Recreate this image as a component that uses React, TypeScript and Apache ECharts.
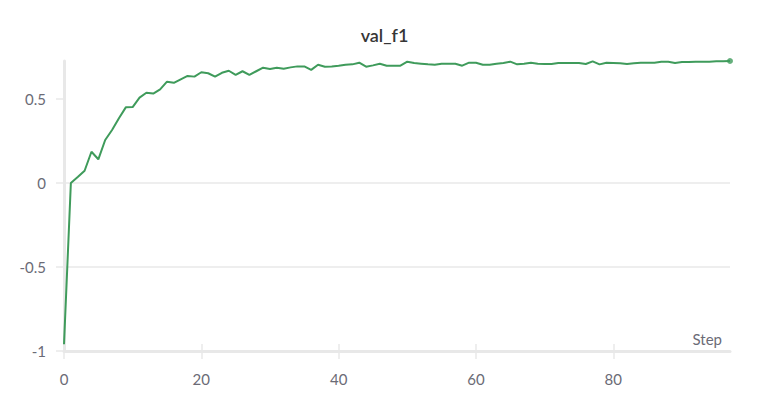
import React, { useEffect, useRef } from "react";
import * as echarts from "echarts";

const title = "val_f1";
const xAxisName = "Step";
const xTicks = [0, 20, 40, 60, 80];
const yTicks = [-1, -0.5, 0, 0.5];
const values = [
  -0.96, 0.0, 0.035, 0.073, 0.186, 0.141, 0.256, 0.315, 0.385, 0.45,
  0.452, 0.508, 0.537, 0.532, 0.557, 0.603, 0.596, 0.617, 0.637, 0.633,
  0.659, 0.653, 0.633, 0.656, 0.668, 0.643, 0.665, 0.643, 0.665, 0.686,
  0.679, 0.686, 0.68, 0.688, 0.694, 0.694, 0.673, 0.704, 0.692, 0.693,
  0.698, 0.704, 0.706, 0.716, 0.692, 0.7, 0.71, 0.698, 0.698, 0.698,
  0.722, 0.714, 0.71, 0.706, 0.704, 0.71, 0.71, 0.71, 0.698, 0.716,
  0.716, 0.704, 0.704, 0.71, 0.714, 0.722, 0.706, 0.71, 0.716, 0.71,
  0.708, 0.708, 0.714, 0.714, 0.714, 0.714, 0.708, 0.724, 0.706, 0.716,
  0.714, 0.712, 0.708, 0.712, 0.716, 0.716, 0.716, 0.722, 0.722, 0.714,
  0.72, 0.72, 0.722, 0.722, 0.722, 0.724, 0.724, 0.726,
];
const steps = values.map((_, i) => i);

const LINE_COLOR = "#3f9b5b";
const GRID_COLOR = "#e8e8e8";
const LABEL_COLOR = "#6b6b76";
const FONT = "Lato, 'Noto Sans', sans-serif";

export default function App() {
  const ref = useRef<HTMLDivElement>(null);
  useEffect(() => {
    if (!ref.current) return;
    const chart = echarts.init(ref.current, null, { renderer: "svg" });
    const data = steps.map((s, i) => [s, values[i]]);
    const last = data[data.length - 1];
    const xMax = steps[steps.length - 1];
    const yMax = Math.max(...values);
    chart.setOption({
      animation: false,
      title: {
        text: title,
        left: "center",
        top: 21,
        textStyle: { fontFamily: FONT, fontSize: 18, fontWeight: 600, color: "#363636" },
      },
      grid: { left: 64, right: 39, top: 61, bottom: 53 },
      xAxis: [
        {
          type: "value",
          min: 0,
          max: xMax,
          interval: 20,
          name: xAxisName,
          nameLocation: "end",
          nameGap: -8,
          nameTextStyle: {
            fontFamily: FONT,
            fontSize: 15,
            color: LABEL_COLOR,
            align: "right",
            verticalAlign: "bottom",
            padding: [0, 0, 5, 0],
          },
          axisLine: { show: true, onZero: false, lineStyle: { color: GRID_COLOR, width: 3 } },
          axisTick: {
            show: true,
            length: 8,
            customValues: xTicks,
            lineStyle: { color: GRID_COLOR, width: 1.5 },
          },
          axisLabel: {
            customValues: xTicks,
            margin: 20,
            fontFamily: FONT,
            fontSize: 15,
            color: LABEL_COLOR,
          },
          splitLine: { show: false },
        },
        {
          type: "value",
          min: 0,
          max: xMax,
          interval: 20,
          position: "bottom",
          axisLine: { show: false, onZero: false },
          axisLabel: { show: false },
          axisTick: {
            show: true,
            inside: true,
            length: 7,
            customValues: xTicks,
            lineStyle: { color: GRID_COLOR, width: 1.5 },
          },
          splitLine: { show: false },
        },
      ],
      yAxis: {
        type: "value",
        min: -1,
        max: yMax,
        interval: 0.5,
        axisLine: { show: true, onZero: false, lineStyle: { color: GRID_COLOR, width: 3 } },
        axisTick: {
          show: true,
          length: 8,
          customValues: yTicks,
          lineStyle: { color: GRID_COLOR, width: 1.5 },
        },
        axisLabel: {
          customValues: yTicks,
          margin: 18,
          fontFamily: FONT,
          fontSize: 15,
          color: LABEL_COLOR,
        },
        splitLine: {
          show: true,
          showMaxLine: false,
          lineStyle: { color: GRID_COLOR, width: 1.5 },
        },
      },
      series: [
        {
          type: "line",
          xAxisIndex: 0,
          data,
          showSymbol: false,
          symbol: "none",
          lineStyle: { color: LINE_COLOR, width: 2 },
          itemStyle: { color: LINE_COLOR },
          z: 3,
        },
        {
          type: "scatter",
          xAxisIndex: 0,
          data: [last],
          symbol: "circle",
          symbolSize: 6,
          itemStyle: { color: LINE_COLOR },
          z: 4,
        },
      ],
    });
    return () => chart.dispose();
  }, []);
  return (
    <div
      ref={ref}
      style={{ position: "absolute", left: 0, top: 0, width: 769, height: 404 }}
    />
  );
}
